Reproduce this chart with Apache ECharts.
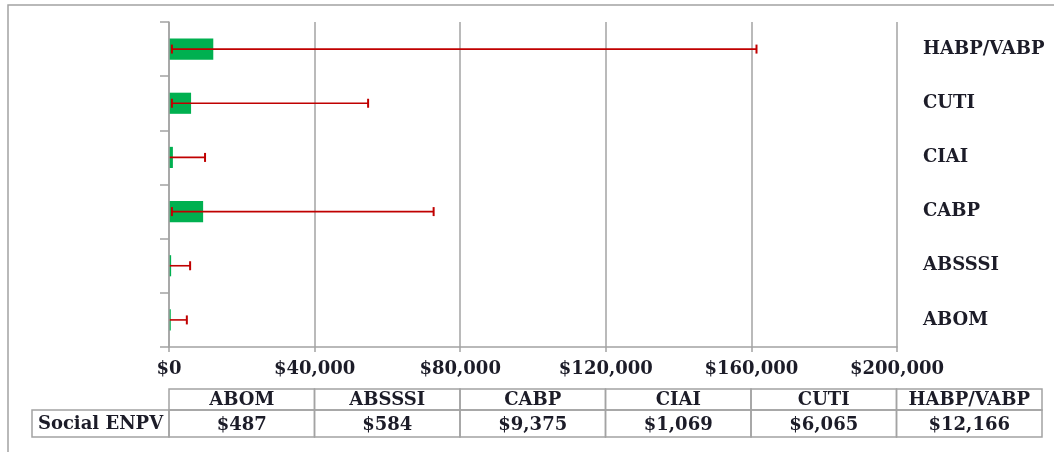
<!DOCTYPE html>
<html><head><meta charset="utf-8">
<script src="https://cdn.jsdelivr.net/npm/echarts@6/dist/echarts.min.js"></script>
<style>html,body{margin:0;padding:0;background:#fff}#c{width:1054px;height:452px}</style>
</head><body><div id="c"></div>
<script>
// ---- data ----
const categories = ['ABOM', 'ABSSSI', 'CABP', 'CIAI', 'CUTI', 'HABP/VABP'];
const socialENPV = [487, 584, 9375, 1069, 6065, 12166];
const errLower = [0, 0, 800, 0, 800, 800];
const errUpper = [4900, 5800, 72700, 9900, 54700, 161400];
const xMin = 0, xMax = 200000, xStep = 40000;
const tableRowLabel = 'Social ENPV';
const tableValueLabels = ['$487', '$584', '$9,375', '$1,069', '$6,065', '$12,166'];

// ---- styles ----
const FONT = 'DejaVu Serif';
const TXT = '#1c1c28';
const GRID_GRAY = '#a3a3a3';

const chart = echarts.init(document.getElementById('c'), null, {renderer: 'canvas'});
const fmt = v => '$' + Number(v).toLocaleString('en-US');

const option = {
  animation: false,
  backgroundColor: '#fff',
  grid: [
    {left: 169, right: 157, top: 22, bottom: 105},
    {left: 169, right: 12, top: 389, height: 48}
  ],
  xAxis: [
    {
      type: 'value', gridIndex: 0, min: xMin, max: xMax, interval: xStep,
      axisLine: {show: true, lineStyle: {color: GRID_GRAY, width: 1.5}},
      axisTick: {show: true, length: 5, lineStyle: {color: GRID_GRAY, width: 1.5}},
      splitLine: {show: true, lineStyle: {color: GRID_GRAY, width: 1.5}},
      axisLabel: {formatter: fmt, margin: 13, color: TXT, fontFamily: FONT, fontWeight: 'bold', fontSize: 18}
    },
    {
      type: 'category', gridIndex: 1, data: categories,
      axisLine: {show: false}, axisTick: {show: false}, axisLabel: {show: false}, splitLine: {show: false}
    }
  ],
  yAxis: [
    {
      type: 'category', gridIndex: 0, data: categories, position: 'left', z: 5,
      axisLine: {show: true, lineStyle: {color: GRID_GRAY, width: 1.5}},
      axisTick: {show: true, length: 9, lineStyle: {color: GRID_GRAY, width: 1.5}},
      axisLabel: {show: false}, splitLine: {show: false}
    },
    {
      type: 'category', gridIndex: 0, data: categories, position: 'right',
      axisLine: {show: false}, axisTick: {show: false}, splitLine: {show: false},
      axisLabel: {show: true, align: 'left', margin: 26, color: TXT, fontFamily: FONT, fontWeight: 'bold', fontSize: 18}
    },
    {
      type: 'value', gridIndex: 1, min: 0, max: 48, inverse: true, show: false
    }
  ],
  graphic: [
    {type: 'rect', shape: {x: 8, y: 5, width: 1050, height: 470},
     style: {fill: 'none', stroke: GRID_GRAY, lineWidth: 1.5}, silent: true, z: -1},
    {type: 'rect', shape: {x: 32, y: 410, width: 137, height: 27},
     style: {fill: '#fff', stroke: GRID_GRAY, lineWidth: 1.5}, z: 10},
    {type: 'text', x: 100.5, y: 424, z: 11,
     style: {text: tableRowLabel, align: 'center', verticalAlign: 'middle', fill: TXT,
             font: 'bold 18px "' + FONT + '"'}}
  ],
  series: [
    {
      type: 'bar', xAxisIndex: 0, yAxisIndex: 0, data: socialENPV, barWidth: '39%',
      itemStyle: {color: '#00b050'}, z: 2
    },
    {
      type: 'custom', xAxisIndex: 0, yAxisIndex: 0, z: 3,
      data: categories.map((c, i) => [errLower[i], errUpper[i], i]),
      renderItem: (params, api) => {
        const lo = api.coord([api.value(0), api.value(2)]);
        const hi = api.coord([api.value(1), api.value(2)]);
        const h = 4.5;
        const st = {stroke: '#c00000', lineWidth: 1.6};
        const children = [
          {type: 'line', shape: {x1: lo[0], y1: lo[1], x2: hi[0], y2: hi[1]}, style: st},
          {type: 'line', shape: {x1: hi[0], y1: hi[1] - h, x2: hi[0], y2: hi[1] + h}, style: {stroke: '#c00000', lineWidth: 2}}
        ];
        if (api.value(0) > 0) {
          children.push({type: 'line', shape: {x1: lo[0], y1: lo[1] - h, x2: lo[0], y2: lo[1] + h}, style: {stroke: '#c00000', lineWidth: 2}});
        }
        return {type: 'group', children};
      }
    },
    {
      type: 'custom', xAxisIndex: 1, yAxisIndex: 2, z: 10,
      data: categories.map((c, i) => [i, c, tableValueLabels[i]]),
      renderItem: (params, api) => {
        const i = params.dataIndex;
        const top = api.coord([i, 0]);
        const mid = api.coord([i, 21]);
        const bot = api.coord([i, 48]);
        const w = api.size([1, 0])[0];
        const x0 = top[0] - w / 2;
        const cellStyle = {fill: 'none', stroke: GRID_GRAY, lineWidth: 1.5};
        const txt = (s, y) => ({type: 'text', style: {text: s, x: top[0], y, align: 'center', verticalAlign: 'middle',
          fill: TXT, font: 'bold 18px "' + FONT + '"'}});
        return {type: 'group', children: [
          {type: 'rect', shape: {x: x0, y: top[1], width: w, height: mid[1] - top[1]}, style: cellStyle},
          {type: 'rect', shape: {x: x0, y: mid[1], width: w, height: bot[1] - mid[1]}, style: cellStyle},
          txt(categories[i], (top[1] + mid[1]) / 2 + 1),
          txt(tableValueLabels[i], (mid[1] + bot[1]) / 2 + 1.5)
        ]};
      }
    }
  ]
};
chart.setOption(option);
</script>
</body></html>
